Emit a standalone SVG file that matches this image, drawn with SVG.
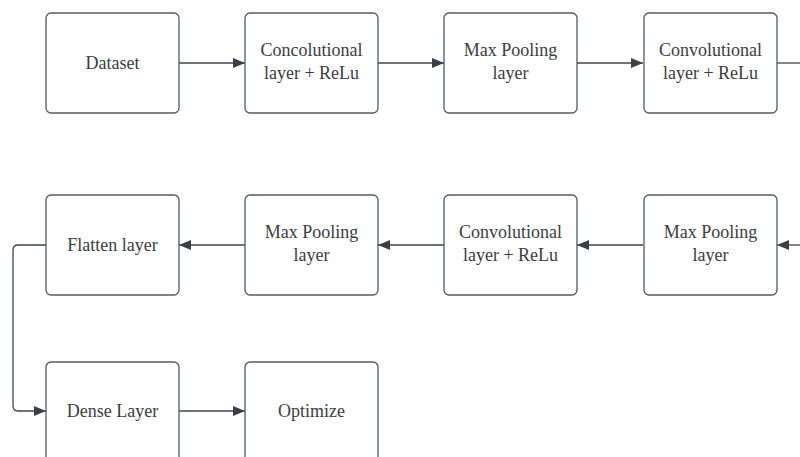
<svg xmlns="http://www.w3.org/2000/svg" width="800" height="457" viewBox="0 0 800 457">
<defs>
<style>
.box{fill:#fff;stroke:#555a60;stroke-width:1.3}
.lbl{font-size:18px;fill:#3a3d42;text-anchor:middle}
.edge{fill:none;stroke:#3f444a;stroke-width:1.3}
</style>
<marker id="ah" viewBox="0 0 12 10" refX="12" refY="5" markerWidth="12" markerHeight="10" markerUnits="userSpaceOnUse" orient="auto">
<path d="M0,0 L12,5 L0,10 Z" fill="#3a3f47"/>
</marker>
</defs>
<rect width="800" height="457" fill="#fff"/>
<g id="connectors">
<path class="edge" d="M179,63 H245" marker-end="url(#ah)"/>
<path class="edge" d="M378,63 H444" marker-end="url(#ah)"/>
<path class="edge" d="M577,63 H643" marker-end="url(#ah)"/>
<path class="edge" d="M777,63 H800"/>
<path class="edge" d="M800,245 H777" marker-end="url(#ah)"/>
<path class="edge" d="M643,245 H577" marker-end="url(#ah)"/>
<path class="edge" d="M444,245 H378" marker-end="url(#ah)"/>
<path class="edge" d="M245,245 H179" marker-end="url(#ah)"/>
<path class="edge" d="M46,245 H18 Q13,245 13,250 V406 Q13,411 18,411 H46" marker-end="url(#ah)"/>
<path class="edge" d="M179,411 H245" marker-end="url(#ah)"/>
</g>
<g font-family="Liberation Serif, DejaVu Serif, serif">
<g id="dataset"><rect class="box" x="46" y="13" width="133" height="100" rx="5"/><text class="lbl" x="112.5" y="69">Dataset</text></g>
<g id="conv1"><rect class="box" x="245" y="13" width="133" height="100" rx="5"/><text class="lbl" x="311.5" y="56">Concolutional</text><text class="lbl" x="311.5" y="79">layer + ReLu</text></g>
<g id="pool1"><rect class="box" x="444" y="13" width="133" height="100" rx="5"/><text class="lbl" x="510.5" y="56">Max Pooling</text><text class="lbl" x="510.5" y="79">layer</text></g>
<g id="conv2"><rect class="box" x="644" y="13" width="133" height="100" rx="5"/><text class="lbl" x="710.5" y="56">Convolutional</text><text class="lbl" x="710.5" y="79">layer + ReLu</text></g>
<g id="pool2"><rect class="box" x="644" y="195" width="133" height="100" rx="5"/><text class="lbl" x="710.5" y="238">Max Pooling</text><text class="lbl" x="710.5" y="261">layer</text></g>
<g id="conv3"><rect class="box" x="444" y="195" width="133" height="100" rx="5"/><text class="lbl" x="510.5" y="238">Convolutional</text><text class="lbl" x="510.5" y="261">layer + ReLu</text></g>
<g id="pool3"><rect class="box" x="245" y="195" width="133" height="100" rx="5"/><text class="lbl" x="311.5" y="238">Max Pooling</text><text class="lbl" x="311.5" y="261">layer</text></g>
<g id="flatten"><rect class="box" x="46" y="195" width="133" height="100" rx="5"/><text class="lbl" x="112.5" y="251">Flatten layer</text></g>
<g id="dense"><rect class="box" x="46" y="362" width="133" height="100" rx="5"/><text class="lbl" x="112.5" y="417">Dense Layer</text></g>
<g id="optimize"><rect class="box" x="245" y="362" width="133" height="100" rx="5"/><text class="lbl" x="311.5" y="417">Optimize</text></g>
</g>
</svg>
